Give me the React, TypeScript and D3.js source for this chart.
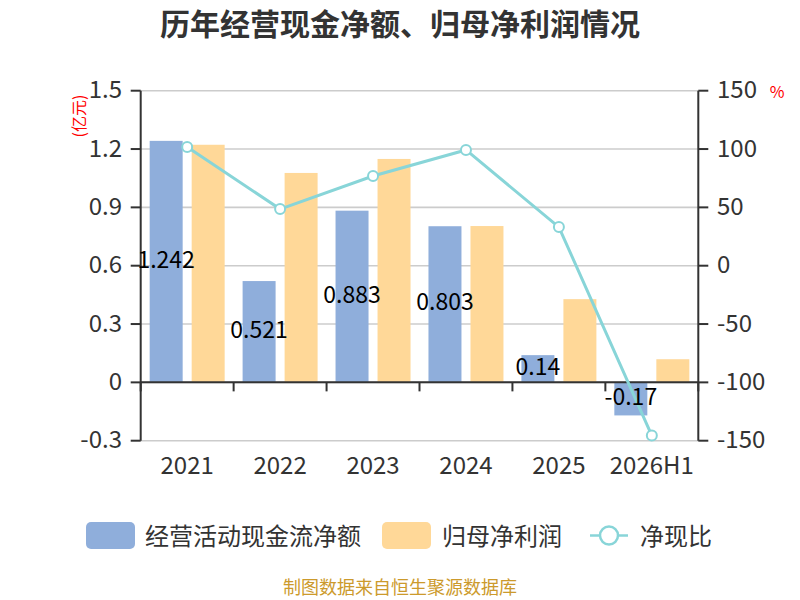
import React from "react";
import * as d3 from "d3";

const categories = ["2021", "2022", "2023", "2024", "2025", "2026H1"];
const cashFlow = [1.242, 0.521, 0.883, 0.803, 0.14, -0.17];
const netProfit = [1.222, 1.077, 1.149, 0.804, 0.428, 0.119];
const ratio = [101.8, 48.5, 76.9, 99.2, 33.1, -145.6];
const leftTicks = [-0.3, 0, 0.3, 0.6, 0.9, 1.2, 1.5];
const rightTicks = [-150, -100, -50, 0, 50, 100, 150];
const seriesNames = ["经营活动现金流净额", "归母净利润", "净现比"];

const BLUE = "#8FAEDB";
const ORANGE = "#FFD898";
const TEAL = "#88D5D8";
const FONT = "'Microsoft YaHei', 'Noto Sans CJK SC', sans-serif";

const fmtLeft = (t: number) => (t === 0 ? "0" : t.toFixed(1));

export default function App() {
  const W = 800;
  const H = 600;
  const left = 140.7;
  const right = 698.3;
  const top = 90.7;
  const bottom = 440.7;

  const x = d3.scaleBand<string>().domain(categories).range([left, right]).padding(0);
  const yL = d3.scaleLinear().domain([-0.3, 1.5]).range([bottom, top]);
  const yR = d3.scaleLinear().domain([-150, 150]).range([bottom, top]);
  const bw = x.bandwidth();
  const barW = bw * 0.355;
  const off = bw * 0.226;
  const cx = (c: string) => (x(c) as number) + bw / 2;

  const line = d3
    .line<number>()
    .x((_, i) => cx(categories[i]))
    .y((d) => yR(d));

  const zeroY = yL(0);
  const dyNum = -3;

  return (
    <div style={{ position: "fixed", left: 0, top: 0, width: W, height: H, background: "#fff" }}>
      <svg width={W} height={H} style={{ fontFamily: FONT, display: "block" }}>
        <rect x={0} y={0} width={W} height={H} fill="#fff" />
        <text x={400} y={22} textAnchor="middle" dominantBaseline="central" fontSize={30} fontWeight="bold" fill="#333">
          历年经营现金净额、归母净利润情况
        </text>

        {/* gridlines */}
        {leftTicks.map((t) => (
          <line key={"g" + t} x1={left} x2={right} y1={yL(t)} y2={yL(t)} stroke="#cccccc" strokeWidth={1.6} />
        ))}

        {/* bars */}
        {categories.map((c, i) => {
          const v = cashFlow[i];
          const y0 = yL(Math.max(0, v));
          const h = Math.abs(yL(v) - zeroY);
          return <rect key={"b" + c} x={cx(c) - off - barW / 2} y={y0} width={barW} height={h} fill={BLUE} />;
        })}
        {categories.map((c, i) => {
          const v = netProfit[i];
          const y0 = yL(Math.max(0, v));
          const h = Math.abs(yL(v) - zeroY);
          return <rect key={"o" + c} x={cx(c) + off - barW / 2} y={y0} width={barW} height={h} fill={ORANGE} />;
        })}

        {/* left axis */}
        <line x1={left} x2={left} y1={top} y2={bottom} stroke="#333" strokeWidth={2} />
        {leftTicks.map((t) => (
          <g key={"l" + t}>
            <line x1={left - 10} x2={left} y1={yL(t)} y2={yL(t)} stroke="#333" strokeWidth={2} />
            <text x={122} y={yL(t) + dyNum} textAnchor="end" dominantBaseline="central" fontSize={24} fill="#333">
              {fmtLeft(t)}
            </text>
          </g>
        ))}
        <text
          transform={`translate(78,116) rotate(-90)`}
          textAnchor="middle"
          dominantBaseline="central"
          fontSize={16}
          fill="#ff0000"
        >
          (亿元)
        </text>

        {/* right axis */}
        <line x1={right} x2={right} y1={top} y2={bottom} stroke="#333" strokeWidth={2} />
        {rightTicks.map((t) => (
          <g key={"r" + t}>
            <line x1={right} x2={right + 10} y1={yR(t)} y2={yR(t)} stroke="#333" strokeWidth={2} />
            <text x={717} y={yR(t) + dyNum} textAnchor="start" dominantBaseline="central" fontSize={24} fill="#333">
              {String(t)}
            </text>
          </g>
        ))}
        <text x={777} y={91} textAnchor="middle" dominantBaseline="central" fontSize={16} fill="#ff0000">
          %
        </text>

        {/* x axis at zero */}
        <line x1={left} x2={right} y1={zeroY} y2={zeroY} stroke="#333" strokeWidth={2} />
        {categories.map((c) => (
          <line key={"xt" + c} x1={x(c) as number} x2={x(c) as number} y1={zeroY} y2={zeroY + 9} stroke="#333" strokeWidth={2} />
        ))}
        <line x1={right} x2={right} y1={zeroY} y2={zeroY + 9} stroke="#333" strokeWidth={2} />
        {categories.map((c) => (
          <text key={"xl" + c} x={cx(c)} y={465 + dyNum + 1} textAnchor="middle" dominantBaseline="central" fontSize={24} fill="#333">
            {c}
          </text>
        ))}

        {/* line */}
        <path d={line(ratio) || ""} fill="none" stroke={TEAL} strokeWidth={3} />
        {ratio.map((v, i) => (
          <circle key={"p" + i} cx={cx(categories[i])} cy={yR(v)} r={5} fill="#fff" stroke={TEAL} strokeWidth={2} />
        ))}

        {/* bar labels */}
        {categories.map((c, i) => {
          const v = cashFlow[i];
          const my = (yL(v) + zeroY) / 2;
          return (
            <text key={"bl" + c} x={cx(c) - off} y={my - 4} textAnchor="middle" dominantBaseline="central" fontSize={23} fill="#000">
              {String(v)}
            </text>
          );
        })}

        {/* legend */}
        <rect x={86} y={522} width={49} height={27} rx={5} fill={BLUE} />
        <text x={145} y={534} dominantBaseline="central" fontSize={24} fill="#333">
          {seriesNames[0]}
        </text>
        <rect x={382} y={522} width={49} height={27} rx={5} fill={ORANGE} />
        <text x={442} y={534} dominantBaseline="central" fontSize={24} fill="#333">
          {seriesNames[1]}
        </text>
        <line x1={590} x2={628} y1={535.5} y2={535.5} stroke={TEAL} strokeWidth={2.5} />
        <circle cx={609} cy={535.5} r={9} fill="#fff" stroke={TEAL} strokeWidth={2.5} />
        <text x={640} y={534} dominantBaseline="central" fontSize={24} fill="#333">
          {seriesNames[2]}
        </text>

        <text x={400} y={586} textAnchor="middle" dominantBaseline="central" fontSize={18} fill="#cc9a2c">
          制图数据来自恒生聚源数据库
        </text>
      </svg>
    </div>
  );
}
